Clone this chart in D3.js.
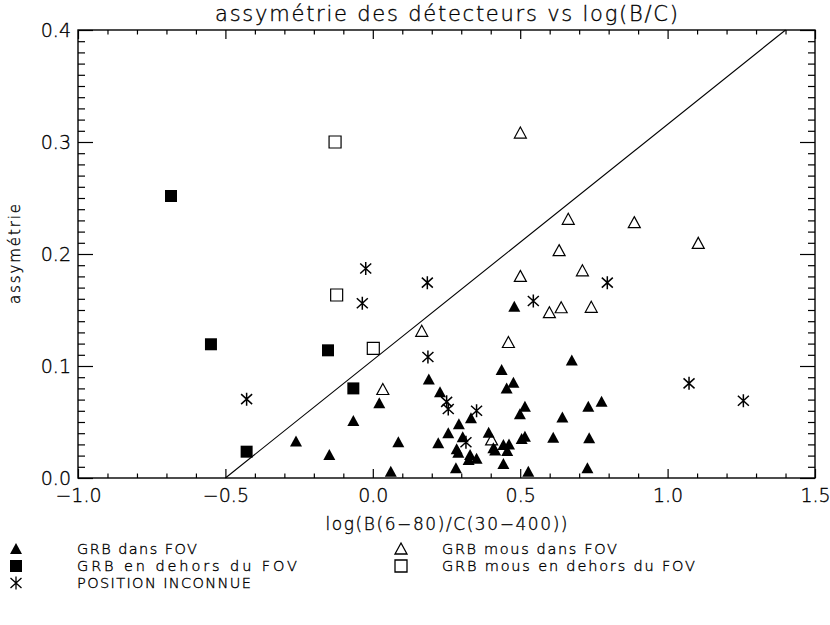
<!DOCTYPE html>
<html><head><meta charset="utf-8">
<script src="https://cdn.jsdelivr.net/npm/d3@7"></script>
<style>
body{margin:0;background:#fff}
text{font-family:"DejaVu Sans","Liberation Sans",sans-serif;font-weight:200;fill:#000;stroke:#000;stroke-width:0.35px}
</style>
</head><body>
<svg id="c" width="830" height="625"></svg>
<script>
// ---- data ----
const title = "assymétrie des détecteurs vs log(B/C)";
const xLabel = "log(B(6−80)/C(30−400))";
const yLabel = "assymétrie";
const xTicks = [-1.0, -0.5, 0.0, 0.5, 1.0, 1.5];
const xTickLabels = ["−1.0", "−0.5", "0.0", "0.5", "1.0", "1.5"];
const yTicks = [0.0, 0.1, 0.2, 0.3, 0.4];
const yTickLabels = ["0.0", "0.1", "0.2", "0.3", "0.4"];
const refLine = [[-0.5, 0.0], [1.4, 0.4]];

// GRB dans FOV (filled triangles)
const grbFov = [
  [0.022,0.0667],[-0.066,0.051],[-0.2605,0.0327],[-0.1475,0.0205],[0.061,0.0056],
  [0.0866,0.0319],[0.19,0.088],[0.228,0.0765],[0.333,0.0533],[0.292,0.048],
  [0.256,0.040],[0.222,0.031],[0.305,0.0363],[0.2845,0.0256],[0.29,0.0226],
  [0.330,0.0205],[0.352,0.0172],[0.325,0.016],[0.282,0.0087],[0.393,0.0405],
  [0.437,0.0964],[0.454,0.080],[0.443,0.0295],[0.409,0.0265],[0.415,0.0245],
  [0.462,0.030],[0.443,0.0125],[0.477,0.085],[0.675,0.105],[0.516,0.0637],
  [0.499,0.0569],[0.776,0.068],[0.731,0.0637],[0.643,0.054],[0.516,0.0369],
  [0.505,0.0348],[0.612,0.036],[0.734,0.0354],[0.456,0.024],[0.5275,0.0056],
  [0.728,0.0087],[0.48,0.153]
];
// GRB en dehors du FOV (filled squares)
const grbOut = [
  [-0.6845,0.2518],[-0.549,0.1194],[-0.152,0.114],[-0.066,0.080],[-0.428,0.0235]
];
// POSITION INCONNUE (asterisks)
const grbUnknown = [
  [-0.428,0.0704],[-0.024,0.187],[-0.0356,0.156],[0.185,0.1744],[0.187,0.108],
  [0.2505,0.068],[0.256,0.0616],[0.352,0.060],[0.316,0.0319],[0.5445,0.158],
  [0.7955,0.1744],[1.0727,0.0845],[1.257,0.069]
];
// GRB mous dans FOV (open triangles)
const softFov = [
  [0.5005,0.308],[0.663,0.231],[0.887,0.228],[1.104,0.2095],[0.632,0.203],
  [0.711,0.185],[0.5005,0.180],[0.639,0.152],[0.599,0.1476],[0.741,0.1524],
  [0.166,0.131],[0.46,0.121],[0.034,0.079],[0.403,0.034]
];
// GRB mous en dehors du FOV (open squares)
const softOut = [
  [-0.128,0.300],[-0.1226,0.1634],[0.0017,0.1158]
];
const legendLabels = ["GRB dans FOV","GRB en dehors du FOV","POSITION INCONNUE",
                      "GRB mous dans FOV","GRB mous en dehors du FOV"];

// ---- drawing ----
const svg = d3.select("#c");
const L = 78, R = 815, T = 30, B = 478;
const x = d3.scaleLinear().domain([-1.0, 1.5]).range([L, R]);
const y = d3.scaleLinear().domain([0.0, 0.4]).range([B, T]);

const xMinor = d3.range(-1.0, 1.5001, 0.1).map(v => +v.toFixed(2)).filter(v => !xTicks.some(t => Math.abs(t - v) < 1e-6));
const yMinor = d3.range(0, 0.4001, 0.01).map(v => +v.toFixed(3)).filter(v => !yTicks.some(t => Math.abs(t - v) < 1e-6));

function styleAxis(g){
  g.select(".domain").remove();
  g.selectAll("line").attr("stroke","#000").attr("stroke-width",1.2);
  g.attr("font-family",null);
}
// bottom
svg.append("g").attr("transform",`translate(0,${B})`)
  .call(d3.axisBottom(x).tickValues(xTicks).tickSize(-9).tickPadding(11)
        .tickFormat((d,i)=>xTickLabels[i]))
  .call(styleAxis)
  .call(g=>g.selectAll("text").attr("font-size",19));
svg.append("g").attr("transform",`translate(0,${B})`)
  .call(d3.axisBottom(x).tickValues(xMinor).tickSize(-4.5).tickFormat(""))
  .call(styleAxis);
// top
svg.append("g").attr("transform",`translate(0,${T})`)
  .call(d3.axisTop(x).tickValues(xTicks).tickSize(-9).tickFormat(""))
  .call(styleAxis);
svg.append("g").attr("transform",`translate(0,${T})`)
  .call(d3.axisTop(x).tickValues(xMinor).tickSize(-4.5).tickFormat(""))
  .call(styleAxis);
// left
svg.append("g").attr("transform",`translate(${L},0)`)
  .call(d3.axisLeft(y).tickValues(yTicks).tickSize(-15).tickPadding(7)
        .tickFormat((d,i)=>yTickLabels[i]))
  .call(styleAxis)
  .call(g=>g.selectAll("text").attr("font-size",19));
svg.append("g").attr("transform",`translate(${L},0)`)
  .call(d3.axisLeft(y).tickValues(yMinor).tickSize(-7).tickFormat(""))
  .call(styleAxis);
// right
svg.append("g").attr("transform",`translate(${R},0)`)
  .call(d3.axisRight(y).tickValues(yTicks).tickSize(-15).tickFormat(""))
  .call(styleAxis);
svg.append("g").attr("transform",`translate(${R},0)`)
  .call(d3.axisRight(y).tickValues(yMinor).tickSize(-7).tickFormat(""))
  .call(styleAxis);

// frame
svg.append("rect").attr("x",L).attr("y",T).attr("width",R-L).attr("height",B-T)
  .attr("fill","none").attr("stroke","#000").attr("stroke-width",1.4);

// titles
svg.append("text").attr("x",(L+R)/2).attr("y",21).attr("text-anchor","middle")
  .attr("font-size",21).attr("textLength",463).attr("lengthAdjust","spacing").text(title);
svg.append("text").attr("x",(L+R)/2).attr("y",530).attr("text-anchor","middle")
  .attr("font-size",17).attr("textLength",242).attr("lengthAdjust","spacing").text(xLabel);
svg.append("text").attr("transform",`translate(20,${(T+B)/2}) rotate(-90)`).attr("text-anchor","middle")
  .attr("font-size",15).attr("textLength",100).attr("lengthAdjust","spacing").text(yLabel);

// reference line
svg.append("line")
  .attr("x1",x(refLine[0][0])).attr("y1",y(refLine[0][1]))
  .attr("x2",x(refLine[1][0])).attr("y2",y(refLine[1][1]))
  .attr("stroke","#000").attr("stroke-width",1.1);

// symbol paths
const triPath = "M0,-6L6,5L-6,5Z";
const sqPath = "M-6,-6H6V6H-6Z";
const oSqPath = "M-6,-6H6V6H-6Z";
const astPath = "M0,-6.5V6.5M-5.5,-5L5.5,5M-5.5,5L5.5,-5";

function plot(data, path, fill, stroke, sw){
  svg.append("g").selectAll("path").data(data).join("path")
    .attr("transform", d => `translate(${x(d[0])},${y(d[1])})`)
    .attr("d", path).attr("fill", fill).attr("stroke", stroke).attr("stroke-width", sw);
}
plot(softOut, oSqPath, "none", "#000", 1.2);
plot(softFov, triPath, "none", "#000", 1.2);
plot(grbOut, sqPath, "#000", "none", 0);
plot(grbFov, triPath, "#000", "none", 0);
plot(grbUnknown, astPath, "none", "#000", 1.5);

// legend
const legend = [
  {sx:16, sy:549, tx:77, ty:554, path:triPath, fill:"#000", stroke:"none", w:120},
  {sx:16, sy:566, tx:77, ty:571, path:sqPath, fill:"#000", stroke:"none", w:220},
  {sx:16, sy:583, tx:77, ty:588, path:astPath, fill:"none", stroke:"#000", w:174},
  {sx:401, sy:549, tx:442, ty:554, path:triPath, fill:"none", stroke:"#000", w:175},
  {sx:401, sy:566, tx:442, ty:571, path:oSqPath, fill:"none", stroke:"#000", w:253}
];
legend.forEach((e,i)=>{
  svg.append("path").attr("transform",`translate(${e.sx},${e.sy})`).attr("d",e.path)
    .attr("fill",e.fill).attr("stroke",e.stroke).attr("stroke-width", e.stroke==="none"?0:1.3);
  svg.append("text").attr("x",e.tx).attr("y",e.ty).attr("font-size",14.5)
    .attr("textLength",e.w).attr("lengthAdjust","spacing").text(legendLabels[i]);
});
</script>
</body></html>
